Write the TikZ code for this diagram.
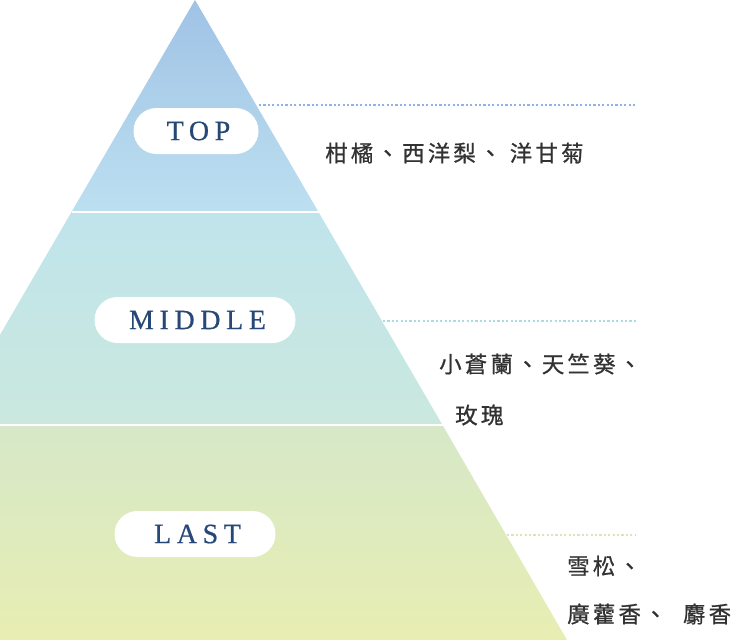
\documentclass[tikz,border=0pt]{standalone}
\usepackage{fontspec}
\newfontfamily\cjk[LetterSpace=14,FakeBold=0.8]{Noto Sans CJK TC}
\newfontfamily\capsfont[LetterSpace=20,FakeBold=0.6]{Liberation Serif}
\usetikzlibrary{positioning}
\definecolor{labelblue}{RGB}{38,72,118}
\definecolor{notegray}{RGB}{50,50,50}
\definecolor{topa}{RGB}{160,194,230}
\definecolor{topb}{RGB}{188,224,240}
\definecolor{mida}{RGB}{192,228,236}
\definecolor{midb}{RGB}{202,232,222}
\definecolor{lasta}{RGB}{214,232,200}
\definecolor{lastb}{RGB}{232,238,178}
\definecolor{dottop}{RGB}{140,180,230}
\definecolor{dotmid}{RGB}{170,218,228}
\definecolor{dotlast}{RGB}{215,230,185}
\tikzset{
  pill/.style={fill=white, rounded corners=23pt, minimum height=46pt, inner sep=0pt,
    text=labelblue, font=\capsfont\fontsize{28}{28}\selectfont},
  note/.style={anchor=west, text=notegray, inner sep=0pt,
    font=\cjk\fontsize{22.5}{22.5}\selectfont},
  leader/.style={line width=2.4pt, dash pattern=on 2.2pt off 2.2pt}
}
\begin{document}
\begin{tikzpicture}[x=1pt,y=-1pt]
\useasboundingbox (0,0) rectangle (745,640);
\begin{scope}
\clip (0,0) rectangle (745,640);
% bands
\shade[top color=topa, bottom color=topb] (195,0) -- (318.5,212) -- (71.5,212) -- cycle;
\shade[top color=mida, bottom color=midb] (71.5,212) -- (318.5,212) -- (442.5,425) -- (-52.5,425) -- cycle;
\shade[top color=lasta, bottom color=lastb] (-52.5,425) -- (442.5,425) -- (567,640) -- (-177,640) -- cycle;
\draw[white, line width=1.5pt] (71.5,212) -- (318.5,212) (-52.5,425) -- (442.5,425);
\end{scope}
% labels
\node[pill, minimum width=125pt] (top) at (196,131) {\hspace{5pt}TOP};
\node[pill, minimum width=201pt] (middle) at (195,320) {\hspace{5pt}MIDDLE};
\node[pill, minimum width=161pt] (last) at (195,534) {\hspace{5pt}LAST};
% leaders
\coordinate (topend) at (636,105);
\coordinate (midend) at (636,321);
\coordinate (lastend) at (636,535);
\draw[leader, dottop] (259,105) -- (topend);
\draw[leader, dotmid] (383,321) -- (midend);
\draw[leader, dotlast] (507,535) -- (lastend);
% notes
\node[note] (topnote) at (325,153) {柑橘、西洋梨、 洋甘菊};
\node[note] (midnote) at (439,364) {小蒼蘭、天竺葵、};
\node[note] (midnote2) at (455,415) {玫瑰};
\node[note] (lastnote) at (567,566) {雪松、};
\node[note] (lastnote2) at (567,614) {廣藿香、\ \ 麝香};
\end{tikzpicture}
\end{document}
